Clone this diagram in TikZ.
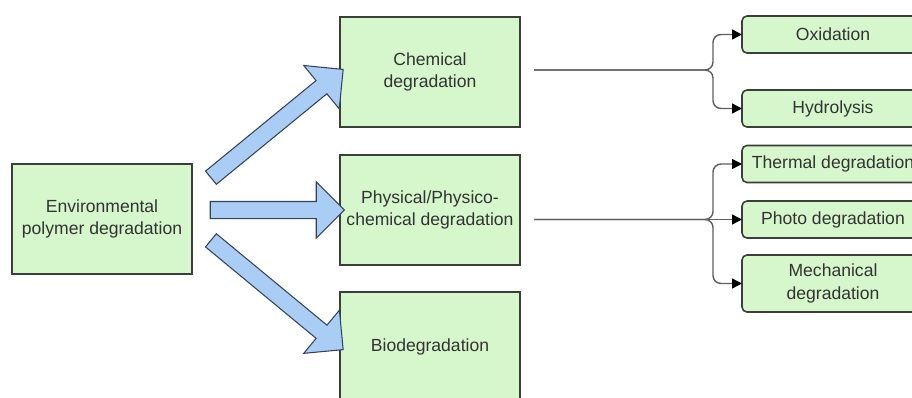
\documentclass[tikz,border=0pt]{standalone}
\usepackage{fontspec}
\setmainfont{Liberation Sans}
\usetikzlibrary{calc,shapes.arrows,arrows.meta}

\definecolor{boxgreen}{HTML}{D6F6CB}
\definecolor{boxline}{HTML}{3A3F3A}
\definecolor{txtgray}{HTML}{333333}
\definecolor{linkgray}{HTML}{5E5E5E}
\definecolor{arrowblue}{HTML}{AACDF5}
\definecolor{arrowline}{HTML}{34425E}

\tikzset{
  mainbox/.style={draw=boxline, fill=boxgreen, line width=0.9pt, minimum width=36mm,
    minimum height=22mm, align=center, inner sep=1pt, outer sep=0pt,
    font=\fontsize{10}{13}\selectfont, text=txtgray},
  subbox/.style={mainbox, rounded corners=1mm, minimum width=36.4mm, minimum height=7.4mm},
  link/.style={draw=linkgray, line width=0.8pt, rounded corners=1.6mm,
    -{Triangle[length=2mm,width=2mm,black]}},
  fatarrow/.style={single arrow, draw=arrowline, fill=arrowblue, line width=0.6pt,
    inner xsep=0pt, inner ysep=1.6mm, outer sep=0pt, single arrow head extend=3.9mm,
    single arrow tip angle=90, single arrow head indent=0pt}
}

% block arrow from #2 to #3, named #1
\newcommand{\blockarrow}[3]{%
  \path let \p1=(#2), \p2=(#3), \n1={atan2(\y2-\y1,\x2-\x1)},
    \n2={veclen(\x2-\x1,\y2-\y1)} in
    node[fatarrow, minimum height=\n2, rotate=\n1] (#1) at ($(\p1)!0.5!(\p2)$) {};}

\begin{document}
\begin{tikzpicture}[x=0.2mm, y=-0.2mm]
  \clip (0,0) rectangle (912,397);

  % left and middle column
  \node[mainbox] (env) at (102,219) {Environmental\\polymer degradation};
  \node[mainbox] (chem) at (430,72) {Chemical\\degradation};
  \node[mainbox] (phys) at (430,210) {Physical/Physico-\\chemical degradation};
  \node[mainbox] (bio) at (430,347) {Biodegradation};

  % right column
  \node[subbox] (ox) at (833,34.5) {Oxidation};
  \node[subbox] (hyd) at (833,108.5) {Hydrolysis};
  \node[subbox] (therm) at (833,164) {Thermal degradation};
  \node[subbox] (photo) at (833,219.5) {Photo degradation};
  \node[subbox, minimum height=11.4mm] (mech) at (833,283.5) {Mechanical\\degradation};

  % block arrows
  \coordinate (tailA) at (207.5,180.5);
  \coordinate (tailB) at (206,210);
  \coordinate (tailC) at (207.5,237.5);
  \blockarrow{upA}{tailA}{chem.west}
  \blockarrow{midB}{tailB}{phys.west}
  \blockarrow{downC}{tailC}{bio.west}

  % branches
  \coordinate (chemout) at ($(chem.east)+(14,-2)$);
  \coordinate (physout) at ($(phys.east)+(14,9.5)$);
  \coordinate (chemjn) at (713,70);
  \coordinate (physjn) at (713,219.5);
  \draw[link] (chemout) -- (chemjn) |- (ox.west);
  \draw[link] (chemout) -- (chemjn) |- (hyd.west);
  \draw[link] (physout) -- (physjn) |- (therm.west);
  \draw[link] (physout) -- (photo.west);
  \draw[link] (physout) -- (physjn) |- (mech.west);
\end{tikzpicture}
\end{document}
